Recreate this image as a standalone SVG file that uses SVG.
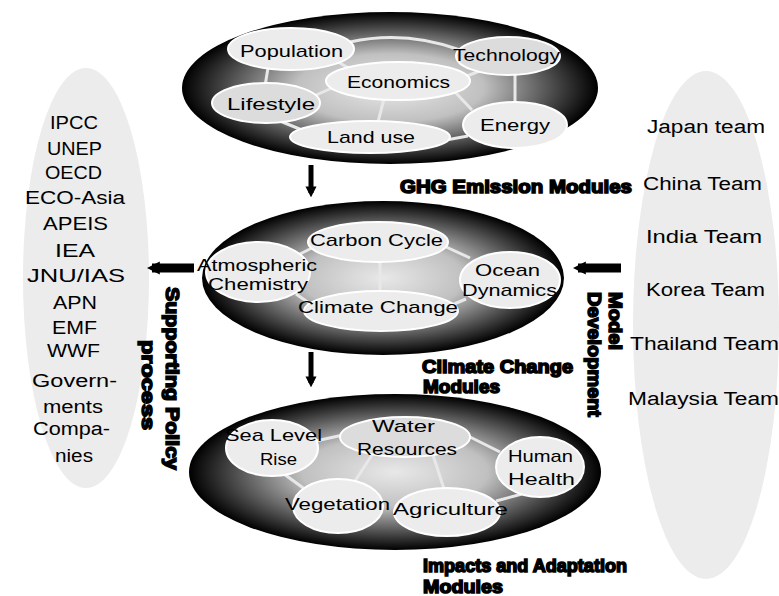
<svg xmlns="http://www.w3.org/2000/svg" width="779" height="596" viewBox="0 0 779 596">
  <defs>
    <radialGradient id="moduleShade" cx="50%" cy="50%" r="50%">
      <stop offset="0%" stop-color="#e8e8e8"/>
      <stop offset="45%" stop-color="#c0c0c0"/>
      <stop offset="75%" stop-color="#575757"/>
      <stop offset="100%" stop-color="#000"/>
    </radialGradient>
    <marker id="headSmall" viewBox="0 0 10 10" refX="6" refY="5" markerWidth="11" markerHeight="12" orient="auto" markerUnits="userSpaceOnUse">
      <path d="M0,0 L10,5 L0,10 Z" fill="#000"/>
    </marker>
    <marker id="headBig" viewBox="0 0 10 10" refX="6" refY="5" markerWidth="13" markerHeight="19" orient="auto" markerUnits="userSpaceOnUse">
      <path d="M0,0 L10,5 L0,10 Z" fill="#000"/>
    </marker>
  </defs>
  <style>
    .module { fill: url(#moduleShade); }
    .group { fill: #ececec; }
    .sub { fill: #ececec; stroke: #fff; stroke-width: 2; }
    .sub2 { fill: #dcdcdc; stroke: #fff; stroke-width: 2; }
    .link { stroke: #e8e8e8; stroke-width: 3; fill: none; }
    .t { font-family: "Liberation Sans", Arial, sans-serif; font-size: 17px; fill: #000; }
    .lt { font-family: "Liberation Sans", Arial, sans-serif; font-size: 18px; fill: #000; }
    .b { font-family: "Liberation Sans", Arial, sans-serif; font-size: 19px; font-weight: bold; fill: #000; stroke: #000; stroke-width: 1.6; }
    .arrow { stroke: #000; fill: none; }
  </style>

  <!-- organisations on the left -->
  <g id="partners">
    <ellipse class="group" cx="86" cy="278" rx="63" ry="210"/>
    <text class="lt" x="50" y="129" textLength="48" lengthAdjust="spacingAndGlyphs">IPCC</text>
    <text class="lt" x="47" y="155" textLength="55" lengthAdjust="spacingAndGlyphs">UNEP</text>
    <text class="lt" x="45" y="179" textLength="57" lengthAdjust="spacingAndGlyphs">OECD</text>
    <text class="lt" x="25" y="204" textLength="100" lengthAdjust="spacingAndGlyphs">ECO-Asia</text>
    <text class="lt" x="43" y="230" textLength="65" lengthAdjust="spacingAndGlyphs">APEIS</text>
    <text class="lt" x="55" y="257" textLength="40" lengthAdjust="spacingAndGlyphs">IEA</text>
    <text class="lt" x="27" y="282" textLength="98" lengthAdjust="spacingAndGlyphs">JNU/IAS</text>
    <text class="lt" x="53" y="309" textLength="44" lengthAdjust="spacingAndGlyphs">APN</text>
    <text class="lt" x="52" y="334" textLength="45" lengthAdjust="spacingAndGlyphs">EMF</text>
    <text class="lt" x="47" y="357" textLength="53" lengthAdjust="spacingAndGlyphs">WWF</text>
    <text class="lt" x="32" y="387" textLength="85" lengthAdjust="spacingAndGlyphs">Govern-</text>
    <text class="lt" x="43" y="413" textLength="60" lengthAdjust="spacingAndGlyphs">ments</text>
    <text class="lt" x="33" y="435" textLength="77" lengthAdjust="spacingAndGlyphs">Compa-</text>
    <text class="lt" x="55" y="462" textLength="38" lengthAdjust="spacingAndGlyphs">nies</text>
  </g>

  <!-- country teams on the right -->
  <g id="teams">
    <ellipse class="group" cx="706" cy="325" rx="73" ry="254"/>
    <text class="lt" x="647" y="133" textLength="118" lengthAdjust="spacingAndGlyphs">Japan team</text>
    <text class="lt" x="643" y="190" textLength="119" lengthAdjust="spacingAndGlyphs">China Team</text>
    <text class="lt" x="646" y="243" textLength="116" lengthAdjust="spacingAndGlyphs">India Team</text>
    <text class="lt" x="646" y="296" textLength="119" lengthAdjust="spacingAndGlyphs">Korea Team</text>
    <text class="lt" x="630" y="350" textLength="149" lengthAdjust="spacingAndGlyphs">Thailand Team</text>
    <text class="lt" x="628" y="405" textLength="151" lengthAdjust="spacingAndGlyphs">Malaysia Team</text>
  </g>

  <!-- GHG emission module -->
  <g id="ghg-module">
    <ellipse class="module" cx="390" cy="88" rx="208" ry="76"/>
    <path class="link" d="M350,42 Q405,30 460,50"/>
    <path class="link" d="M268,68 L265,86"/>
    <path class="link" d="M338,62 L352,70"/>
    <path class="link" d="M462,78 L482,70"/>
    <path class="link" d="M515,74 L515,104"/>
    <path class="link" d="M332,88 L314,96"/>
    <path class="link" d="M455,92 L472,110"/>
    <path class="link" d="M384,99 L378,122"/>
    <path class="link" d="M280,121 L302,130"/>
    <path class="link" d="M446,140 L468,136"/>
    <g id="population"><ellipse class="sub" cx="291" cy="49" rx="63" ry="21"/><text class="t" x="240" y="57" textLength="103" lengthAdjust="spacingAndGlyphs">Population</text></g>
    <g id="technology"><ellipse class="sub2" cx="508" cy="56" rx="52" ry="19"/><text class="t" x="453" y="61" textLength="107" lengthAdjust="spacingAndGlyphs">Technology</text></g>
    <g id="economics"><ellipse class="sub" cx="398" cy="81" rx="72" ry="19"/><text class="t" x="347" y="88" textLength="103" lengthAdjust="spacingAndGlyphs">Economics</text></g>
    <g id="lifestyle"><ellipse class="sub2" cx="266" cy="103" rx="54" ry="20"/><text class="t" x="227" y="110" textLength="88" lengthAdjust="spacingAndGlyphs">Lifestyle</text></g>
    <g id="land-use"><ellipse class="sub" cx="370" cy="137" rx="80" ry="16"/><text class="t" x="327" y="143" textLength="88" lengthAdjust="spacingAndGlyphs">Land use</text></g>
    <g id="energy"><ellipse class="sub" cx="515" cy="125" rx="52" ry="23"/><text class="t" x="480" y="131" textLength="70" lengthAdjust="spacingAndGlyphs">Energy</text></g>
  </g>

  <!-- climate change module -->
  <g id="climate-module">
    <ellipse class="module" cx="383" cy="278" rx="181" ry="77"/>
    <path class="link" d="M300,254 L316,246"/>
    <path class="link" d="M444,246 L470,258"/>
    <path class="link" d="M380,262 L380,292"/>
    <path class="link" d="M454,304 L466,299"/>
    <path class="link" d="M296,294 L312,305"/>
    <g id="carbon-cycle"><ellipse class="sub" cx="378" cy="242" rx="70" ry="20"/><text class="t" x="310" y="246" textLength="133" lengthAdjust="spacingAndGlyphs">Carbon Cycle</text></g>
    <g id="atmospheric-chemistry"><ellipse class="sub" cx="258" cy="272" rx="52" ry="30"/><text class="t" x="197" y="271" textLength="120" lengthAdjust="spacingAndGlyphs">Atmospheric</text><text class="t" x="208" y="290" textLength="100" lengthAdjust="spacingAndGlyphs">Chemistry</text></g>
    <g id="ocean-dynamics"><ellipse class="sub" cx="510" cy="280" rx="50" ry="28"/><text class="t" x="475" y="276" textLength="65" lengthAdjust="spacingAndGlyphs">Ocean</text><text class="t" x="462" y="296" textLength="95" lengthAdjust="spacingAndGlyphs">Dynamics</text></g>
    <g id="climate-change"><ellipse class="sub" cx="381" cy="311" rx="77" ry="20"/><text class="t" x="298" y="313" textLength="160" lengthAdjust="spacingAndGlyphs">Climate Change</text></g>
  </g>

  <!-- impacts and adaptation module -->
  <g id="impacts-module">
    <ellipse class="module" cx="395" cy="472" rx="206" ry="78"/>
    <path class="link" d="M316,441 L343,435"/>
    <path class="link" d="M468,436 L500,452"/>
    <path class="link" d="M372,455 L355,481"/>
    <path class="link" d="M433,455 L444,489"/>
    <path class="link" d="M284,474 L306,490"/>
    <path class="link" d="M496,501 L522,494"/>
    <g id="sea-level-rise"><ellipse class="sub" cx="272" cy="448" rx="46" ry="28"/><text class="t" x="225" y="441" textLength="97" lengthAdjust="spacingAndGlyphs">Sea Level</text><text class="t" x="260" y="465" textLength="37" lengthAdjust="spacingAndGlyphs">Rise</text></g>
    <g id="water-resources"><ellipse class="sub2" cx="405" cy="437" rx="65" ry="20"/><text class="t" x="372" y="432" textLength="63" lengthAdjust="spacingAndGlyphs">Water</text><text class="t" x="357" y="455" textLength="100" lengthAdjust="spacingAndGlyphs">Resources</text></g>
    <g id="human-health"><ellipse class="sub" cx="540" cy="467" rx="44" ry="30"/><text class="t" x="508" y="462" textLength="65" lengthAdjust="spacingAndGlyphs">Human</text><text class="t" x="508" y="485" textLength="67" lengthAdjust="spacingAndGlyphs">Health</text></g>
    <g id="vegetation"><ellipse class="sub" cx="338" cy="506" rx="45" ry="27"/><text class="t" x="285" y="510" textLength="105" lengthAdjust="spacingAndGlyphs">Vegetation</text></g>
    <g id="agriculture"><ellipse class="sub" cx="447" cy="512" rx="53" ry="24"/><text class="t" x="393" y="515" textLength="115" lengthAdjust="spacingAndGlyphs">Agriculture</text></g>
  </g>

  <!-- module titles -->
  <g id="titles">
    <text class="b" x="400" y="193" textLength="232" lengthAdjust="spacingAndGlyphs">GHG Emission Modules</text>
    <text class="b" x="422" y="373" textLength="151" lengthAdjust="spacingAndGlyphs">Climate Change</text>
    <text class="b" x="423" y="393" textLength="77" lengthAdjust="spacingAndGlyphs">Modules</text>
    <text class="b" x="423" y="572" textLength="204" lengthAdjust="spacingAndGlyphs">Impacts and Adaptation</text>
    <text class="b" x="423" y="593" textLength="80" lengthAdjust="spacingAndGlyphs">Modules</text>
    <text class="b" transform="translate(166,287) rotate(90)" x="0" y="0" textLength="183" lengthAdjust="spacingAndGlyphs">Supporting Policy</text>
    <text class="b" transform="translate(142,340) rotate(90)" x="0" y="0" textLength="90" lengthAdjust="spacingAndGlyphs">process</text>
    <text class="b" transform="translate(609,292) rotate(90)" x="0" y="0" textLength="58" lengthAdjust="spacingAndGlyphs">Model</text>
    <text class="b" transform="translate(588,292) rotate(90)" x="0" y="0" textLength="125" lengthAdjust="spacingAndGlyphs">Development</text>
  </g>

  <!-- connectors -->
  <g id="connectors">
    <path class="arrow" d="M311,165 L311,193" stroke-width="5" marker-end="url(#headSmall)"/>
    <path class="arrow" d="M311,352 L311,383" stroke-width="5" marker-end="url(#headSmall)"/>
    <path class="arrow" d="M194,268 L152,268" stroke-width="9" marker-end="url(#headBig)"/>
    <path class="arrow" d="M621,268 L578,268" stroke-width="9" marker-end="url(#headBig)"/>
  </g>
</svg>
